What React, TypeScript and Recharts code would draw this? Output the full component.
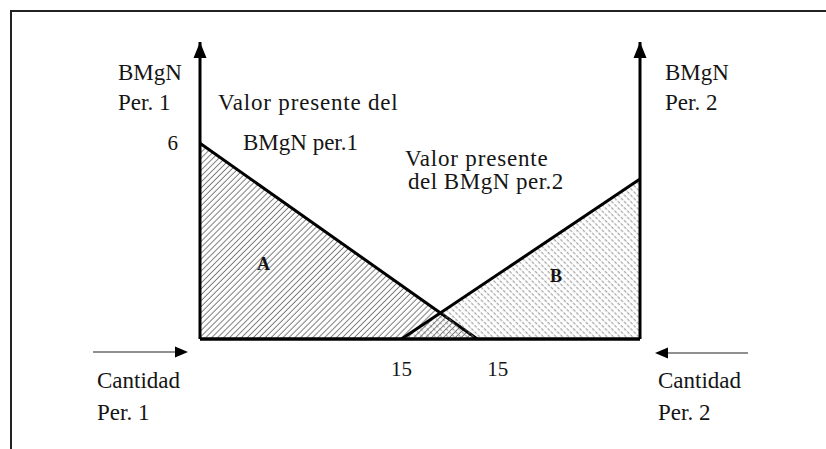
import React from 'react';
import { ComposedChart, Area, XAxis, YAxis, Scatter } from 'recharts';

// ---- data ----
const qtyA = [0, 15];
const bmgnA = [6, 0];
const qtyB = [10.9, 23.8];
const bmgnB = [0, 4.9];
const Q_MAX = 23.8;
const BMGN_MAX = 9.1;
const arrowQ = [0, 23.8];
const yTicks = [6];
const qTicks = [10.9, 16.1];
const qTickLabels = ['15', '15'];

const dataA = qtyA.map((q, i) => ({ q, a: bmgnA[i] }));
const dataB = qtyB.map((q, i) => ({ q, b: bmgnB[i] }));
const arrowLeft = [{ q: arrowQ[0], v: BMGN_MAX }];
const arrowRight = [{ q: arrowQ[1], v: BMGN_MAX }];

const W = 826;
const H = 449;
const FONT = '"Liberation Serif", "Times New Roman", serif';
const INK = '#151515';

const ArrowHead = (p: any) => {
  const { cx, cy } = p;
  return (
    <polygon
      points={`${cx},${cy} ${cx - 6.5},${cy + 16} ${cx + 6.5},${cy + 16}`}
      fill="#000"
    />
  );
};

const YTick = (p: any) => (
  <text x={p.x} y={p.y + 7} textAnchor="end" fontFamily={FONT} fontSize={21} fill={INK}>
    {p.payload.value}
  </text>
);

const XTick = (p: any) => {
  const i = qTicks.indexOf(p.payload.value);
  return (
    <text x={p.x} y={339 + 37} textAnchor="middle" fontFamily={FONT} fontSize={21} fill={INK}>
      {qTickLabels[i >= 0 ? i : 0]}
    </text>
  );
};

const texts = [
  { t: 'BMgN', x: 118, y: 80, ls: 0 },
  { t: 'Per. 1', x: 118, y: 110, ls: 0 },
  { t: 'BMgN', x: 665, y: 80, ls: 0 },
  { t: 'Per. 2', x: 665, y: 110, ls: 0 },
  { t: 'Valor presente del', x: 218, y: 110, ls: 0.8 },
  { t: 'BMgN per.1', x: 243, y: 150, ls: 0 },
  { t: 'Valor presente', x: 405, y: 166, ls: 0.8 },
  { t: 'del BMgN per.2', x: 408, y: 189, ls: 0.5 },
  { t: 'Cantidad', x: 97, y: 388, ls: 0 },
  { t: 'Per. 1', x: 97, y: 420, ls: 0 },
  { t: 'Cantidad', x: 658, y: 388, ls: 0 },
  { t: 'Per. 2', x: 658, y: 420, ls: 0 },
];

export default function App() {
  return (
    <div style={{ position: 'absolute', left: 0, top: 0, width: W, height: H, background: '#fff', overflow: 'hidden' }}>
      <svg width={0} height={0} style={{ position: 'absolute' }}>
        <defs>
          <pattern id="hatchA" patternUnits="userSpaceOnUse" width={4.2} height={4.2} patternTransform="rotate(45)">
            <line x1={2} y1={0} x2={2} y2={4.2} stroke="#666" strokeWidth={0.85} />
          </pattern>
          <pattern id="hatchB" patternUnits="userSpaceOnUse" width={4.5} height={4.5} patternTransform="rotate(-45)">
            <line x1={2} y1={0} x2={2} y2={4.5} stroke="#808080" strokeWidth={0.9} strokeDasharray="1.5 1.5" />
          </pattern>
        </defs>
      </svg>
      <div
        style={{
          position: 'absolute', left: 10, top: 10, width: 840, height: 470,
          borderTop: '2px solid #222', borderLeft: '2px solid #222',
        }}
      />
      <div style={{ position: 'absolute', left: 0, top: 0 }}>
        <ComposedChart width={W} height={H} margin={{ top: 42, right: 185, bottom: 109, left: 199 }}>
          <XAxis
            dataKey="q"
            type="number"
            domain={[0, Q_MAX]}
            ticks={qTicks}
            height={1}
            tickLine={false}
            tickSize={0}
            tickMargin={0}
            tick={<XTick />}
            interval={0}
            axisLine={{ stroke: '#000', strokeWidth: 3.5 }}
          />
          <YAxis
            yAxisId="l"
            type="number"
            domain={[0, BMGN_MAX]}
            ticks={yTicks}
            width={1}
            tickLine={false}
            tickSize={0}
            tickMargin={22}
            tick={<YTick />}
            interval={0}
            axisLine={{ stroke: '#000', strokeWidth: 3 }}
          />
          <YAxis
            yAxisId="r"
            orientation="right"
            type="number"
            domain={[0, BMGN_MAX]}
            ticks={[]}
            width={1}
            tickLine={false}
            tick={false}
            axisLine={{ stroke: '#000', strokeWidth: 3 }}
          />
          <Area
            yAxisId="l"
            data={dataA}
            dataKey="a"
            type="linear"
            stroke="#000"
            strokeWidth={3}
            fill="url(#hatchA)"
            fillOpacity={1}
            isAnimationActive={false}
            dot={false}
            activeDot={false}
          />
          <Area
            yAxisId="r"
            data={dataB}
            dataKey="b"
            type="linear"
            stroke="#000"
            strokeWidth={3}
            fill="url(#hatchB)"
            fillOpacity={1}
            isAnimationActive={false}
            dot={false}
            activeDot={false}
          />
          <Scatter yAxisId="l" data={arrowLeft} dataKey="v" shape={<ArrowHead />} isAnimationActive={false} />
          <Scatter yAxisId="r" data={arrowRight} dataKey="v" shape={<ArrowHead />} isAnimationActive={false} />
        </ComposedChart>
      </div>
      <svg width={W} height={H} style={{ position: 'absolute', left: 0, top: 0, pointerEvents: 'none' }}>
        {texts.map((d, i) => (
          <text key={i} x={d.x} y={d.y} fontFamily={FONT} fontSize={23} letterSpacing={d.ls} fill={INK}>
            {d.t}
          </text>
        ))}
        <text x={257} y={270} fontFamily={FONT} fontSize={18} fontWeight="bold" fill={INK}>A</text>
        <text x={550} y={282} fontFamily={FONT} fontSize={18} fontWeight="bold" fill={INK}>B</text>
        <line x1={93} y1={352} x2={176} y2={352} stroke="#222" strokeWidth={1.2} />
        <polygon points="188,352 175,346.5 175,357.5" fill="#000" />
        <line x1={666} y1={353} x2={748} y2={353} stroke="#222" strokeWidth={1.2} />
        <polygon points="655,353 668,347.5 668,358.5" fill="#000" />
      </svg>
    </div>
  );
}
